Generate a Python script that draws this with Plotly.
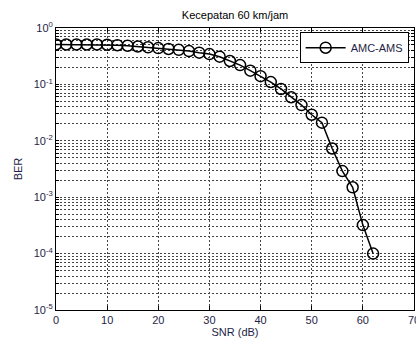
import plotly.graph_objects as go

snr = [0, 2, 4, 6, 8, 10, 12, 14, 16, 18, 20, 22, 24, 26, 28, 30,
       32, 34, 36, 38, 40, 42, 44, 46, 48, 50, 52, 54, 56, 58, 60, 62]
ber = [0.51, 0.51, 0.51, 0.51, 0.51, 0.505, 0.495, 0.485, 0.47, 0.455, 0.44, 0.425,
       0.41, 0.39, 0.365, 0.345, 0.31, 0.26, 0.22, 0.175, 0.14, 0.11,
       0.083, 0.059, 0.043, 0.029, 0.021, 0.0073, 0.0029, 0.0015, 0.00032, 0.0001]
series_name = "AMC-AMS"
title_text = "Kecepatan 60 km/jam"
x_ticks = [0, 10, 20, 30, 40, 50, 60, 70]
decades = [-5, -4, -3, -2, -1, 0]

# y tick values: every 1..9 per decade (grid), labels only at powers of ten
y_vals, y_text = [], []
for d in decades:
    for m in range(1, 10):
        if d == 0 and m > 1:
            break
        y_vals.append(m * 10.0 ** d)
        y_text.append(f"10<sup>{d}</sup>" if m == 1 else " ")

txt = "#1e1e46"
font = dict(family="Liberation Sans, Arial, sans-serif", size=11, color=txt)

fig = go.Figure()
fig.add_trace(go.Scatter(
    x=snr, y=ber, name=series_name, mode="lines+markers",
    line=dict(color="black", width=1.5),
    marker=dict(symbol="circle-open", size=11, color="black", line=dict(width=1.5)),
))

fig.update_layout(
    width=416, height=343,
    margin=dict(l=56, r=2, t=28, b=33, autoexpand=False),
    paper_bgcolor="white", plot_bgcolor="white",
    font=font,
    title=dict(text=title_text, x=0.565, xanchor="center", y=0.955, yanchor="middle",
               font=dict(size=11, color="black")),
    showlegend=True,
    legend=dict(x=0.985, y=0.985, xanchor="right", yanchor="top",
                bgcolor="white", bordercolor="black", borderwidth=1,
                font=dict(size=11, color=txt), itemwidth=40),
    xaxis=dict(
        range=[0, 70], tickvals=x_ticks, ticktext=[str(v) for v in x_ticks],
        ticklabeloverflow="allow",
        showgrid=True, gridcolor="#444444", griddash="2px,2px", gridwidth=0.6,
        showline=True, linecolor="black", linewidth=1, mirror="ticks",
        ticks="inside", ticklen=4, tickcolor="black",
        zeroline=False,
        title=dict(text="SNR (dB)", standoff=3, font=dict(size=11, color=txt)),
    ),
    yaxis=dict(
        type="log", range=[-5, 0], tickvals=y_vals, ticktext=y_text,
        ticklabeloverflow="allow",
        showgrid=True, gridcolor="#444444", griddash="2px,2px", gridwidth=0.5,
        showline=True, linecolor="black", linewidth=1, mirror="ticks",
        ticks="inside", ticklen=3, tickcolor="black",
        zeroline=False,
        title=dict(text="BER", standoff=8, font=dict(size=11, color=txt)),
    ),
)

fig.write_html("out.html", config={"displayModeBar": False},
               post_script="document.body.style.margin='0';document.body.style.overflow='hidden';")
